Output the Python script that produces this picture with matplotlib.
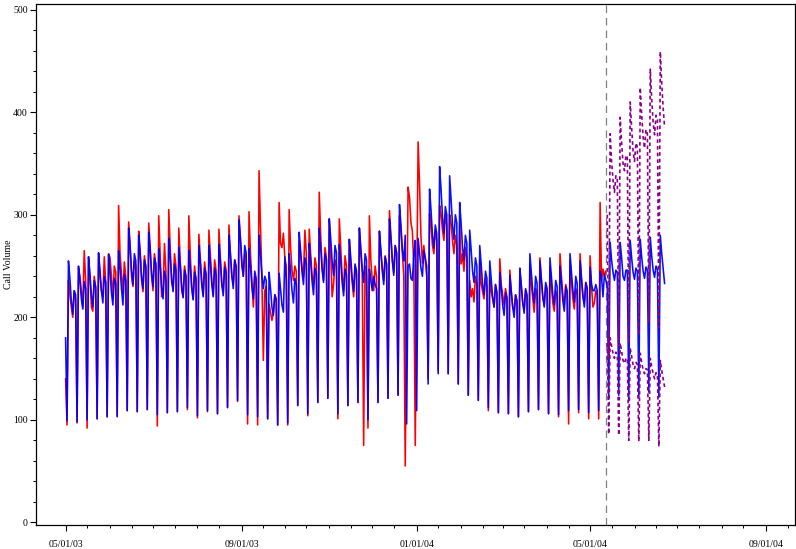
import datetime as dt
import matplotlib
matplotlib.use("Agg")
import matplotlib.pyplot as plt
import matplotlib.dates as mdates

# ---------------- data ----------------
start_date = dt.date(2003, 5, 1)
forecast_start_index = 378        # first forecast day (after the reference line)
reference_date = dt.date(2004, 5, 12)

actual_first = [140]
actual_weeks = [
    [95, 236, 222, 210, 200, 226, 218],
    [97, 248, 240, 226, 210, 265, 236],
    [92, 259, 238, 210, 206, 240, 228],
    [101, 262, 240, 226, 220, 259, 234],
    [103, 262, 258, 240, 218, 250, 244],
    [104, 309, 262, 242, 224, 254, 240],
    [109, 293, 272, 240, 230, 255, 250],
    [108, 284, 266, 236, 225, 260, 248],
    [110, 292, 270, 240, 226, 262, 250],
    [94, 299, 262, 220, 224, 272, 245],
    [107, 305, 268, 234, 228, 262, 250],
    [108, 287, 255, 226, 220, 250, 240],
    [110, 299, 262, 230, 218, 250, 236],
    [102, 281, 258, 236, 222, 254, 242],
    [108, 285, 262, 236, 222, 256, 246],
    [106, 286, 258, 232, 225, 254, 246],
    [112, 290, 262, 240, 232, 256, 248],
    [118, 299, 278, 250, 240, 262, 258],
    [96, 303, 262, 236, 210, 240, 232],
    [95, 343, 290, 236, 158, 226, 230],
    [101, 213, 205, 197, 205, 222, 215],
    [95, 312, 272, 268, 282, 258, 250],
    [95, 305, 268, 246, 236, 250, 245],
    [114, 275, 262, 248, 240, 285, 262],
    [104, 286, 262, 240, 232, 258, 250],
    [117, 322, 280, 248, 236, 268, 258],
    [121, 296, 262, 220, 232, 256, 250],
    [101, 296, 268, 240, 226, 260, 250],
    [114, 276, 250, 234, 220, 250, 242],
    [117, 287, 262, 244, 75, 250, 242],
    [92, 299, 256, 236, 226, 250, 240],
    [117, 284, 262, 249, 236, 260, 252],
    [121, 304, 280, 256, 244, 270, 262],
    [124, 299, 285, 262, 240, 55, 190],
    [327, 317, 292, 284, 250, 75, 225],
    [371, 330, 278, 253, 270, 255, 240],
    [140, 301, 290, 270, 262, 285, 275],
    [148, 309, 300, 285, 275, 300, 290],
    [145, 300, 292, 275, 262, 280, 270],
    [135, 290, 252, 262, 245, 268, 258],
    [124, 236, 220, 228, 215, 240, 232],
    [119, 255, 233, 225, 218, 238, 230],
    [109, 236, 226, 218, 210, 232, 222],
    [107, 257, 232, 222, 212, 228, 220],
    [106, 246, 225, 210, 206, 222, 215],
    [103, 245, 230, 214, 208, 226, 220],
    [108, 252, 232, 218, 205, 228, 222],
    [110, 258, 236, 220, 212, 230, 225],
    [106, 250, 230, 214, 206, 226, 220],
    [103, 262, 240, 222, 212, 232, 226],
    [96, 256, 234, 218, 208, 228, 222],
    [107, 262, 238, 222, 214, 234, 228],
    [101, 260, 230, 210, 214, 226, 222],
    [101, 312, 236, 247, 240, 245],
]

fitted_first = [180]
fitted_weeks = [
    [99, 255, 238, 216, 203, 226, 222],
    [98, 250, 236, 218, 208, 235, 228],
    [100, 259, 242, 222, 210, 236, 230],
    [101, 263, 246, 226, 214, 240, 234],
    [103, 261, 244, 224, 212, 238, 233],
    [103, 265, 248, 228, 212, 242, 236],
    [109, 287, 268, 246, 232, 262, 255],
    [108, 280, 262, 240, 228, 256, 250],
    [110, 283, 265, 243, 230, 258, 252],
    [105, 267, 250, 230, 218, 245, 238],
    [107, 277, 259, 238, 225, 252, 246],
    [108, 268, 251, 231, 219, 246, 240],
    [112, 265, 249, 229, 217, 244, 238],
    [104, 270, 253, 232, 220, 248, 242],
    [109, 270, 253, 233, 220, 248, 241],
    [106, 271, 254, 233, 221, 249, 243],
    [112, 280, 262, 241, 228, 256, 250],
    [119, 295, 276, 254, 240, 270, 263],
    [105, 267, 250, 230, 218, 245, 238],
    [103, 280, 262, 241, 228, 240, 236],
    [101, 244, 228, 210, 202, 222, 218],
    [95, 243, 228, 212, 205, 259, 236],
    [97, 262, 245, 226, 214, 238, 232],
    [114, 283, 265, 244, 232, 258, 252],
    [106, 272, 255, 235, 222, 248, 242],
    [117, 287, 268, 247, 234, 262, 256],
    [121, 296, 277, 255, 241, 270, 263],
    [106, 271, 254, 234, 221, 247, 241],
    [114, 276, 258, 238, 225, 252, 245],
    [117, 287, 268, 247, 234, 262, 256],
    [100, 247, 236, 226, 240, 232, 228],
    [117, 284, 266, 245, 232, 259, 252],
    [121, 296, 277, 255, 241, 270, 263],
    [124, 310, 290, 266, 255, 280, 96],
    [250, 252, 238, 236, 262, 275, 109],
    [277, 262, 248, 240, 265, 258, 250],
    [135, 325, 305, 280, 268, 290, 282],
    [145, 347, 325, 298, 282, 308, 300],
    [145, 338, 315, 290, 276, 300, 292],
    [135, 312, 292, 268, 256, 280, 272],
    [124, 285, 266, 245, 234, 258, 250],
    [119, 270, 252, 232, 222, 245, 238],
    [112, 255, 238, 220, 210, 232, 225],
    [107, 244, 228, 212, 202, 224, 218],
    [106, 241, 226, 210, 200, 222, 216],
    [103, 248, 232, 214, 204, 228, 222],
    [108, 262, 244, 225, 214, 240, 233],
    [110, 255, 238, 220, 210, 234, 228],
    [106, 258, 240, 222, 212, 236, 230],
    [105, 250, 234, 216, 206, 230, 224],
    [109, 262, 244, 226, 215, 240, 233],
    [110, 255, 238, 220, 210, 234, 228],
    [107, 249, 232, 226, 226, 232, 226],
    [109, 245, 239, 220, 242, 236, 230],
    [120, 273, 256, 244, 236, 246, 244],
    [124, 273, 258, 240, 236, 246, 246],
    [120, 275, 258, 244, 237, 248, 245],
    [122, 276, 259, 245, 238, 249, 246],
    [127, 278, 260, 246, 239, 250, 247],
    [122, 280, 262, 247, 233],
]

upper_limit = [300,
               160, 379, 352, 334, 322, 338, 334,
               172, 395, 370, 350, 343, 358, 356,
               175, 410, 385, 362, 352, 370, 366,
               183, 424, 398, 376, 365, 383, 379,
               195, 442, 413, 390, 378, 397, 393,
               190, 459, 428, 404, 385]
lower_limit = [175,
               86, 180, 172, 165, 160, 166, 164,
               85, 175, 167, 158, 155, 160, 160,
               80, 170, 162, 154, 150, 156, 154,
               79, 165, 156, 149, 145, 150, 149,
               80, 160, 152, 145, 140, 146, 144,
               74, 158, 148, 140, 132]

major_tick_dates = [dt.date(2003, 5, 1), dt.date(2003, 9, 1), dt.date(2004, 1, 1),
                    dt.date(2004, 5, 1), dt.date(2004, 9, 1)]
y_ticks = [0, 100, 200, 300, 400, 500]

# ---------------- build ----------------
actual = actual_first + [v for w in actual_weeks for v in w]
fitted = fitted_first + [v for w in fitted_weeks for v in w]

def day(i):
    return start_date + dt.timedelta(days=i)

x_actual = [day(i) for i in range(len(actual))]
x_fitted = [day(i) for i in range(len(fitted))]
x_fc = [day(forecast_start_index + i) for i in range(len(upper_limit))]

plt.rcParams['font.family'] = ['Liberation Serif', 'DejaVu Serif']

fig = plt.figure(figsize=(7.96, 5.49), dpi=100)
ax = fig.add_axes([35.5 / 796, 24 / 549, (795 - 35.5) / 796, (525 - 4) / 549])

ax.plot(x_actual, actual, color='#ff0000', lw=1.15, zorder=2)
ax.plot(x_fitted, fitted, color='#0000ff', lw=1.15, alpha=0.95, zorder=3)
ax.plot(x_fc, upper_limit, color='#8b008b', lw=1.2, ls=(0, (2.2, 1.8)), zorder=4)
ax.plot(x_fc, lower_limit, color='#8b008b', lw=1.2, ls=(0, (2.2, 1.8)), zorder=4)
ax.axvline(reference_date, color='#808080', lw=0.9, ls=(0, (6, 4)), zorder=1)

ax.set_xlim(dt.date(2003, 4, 10), dt.date(2004, 9, 21))
ax.set_ylim(-2.5, 505.5)

ax.xaxis.set_major_locator(matplotlib.ticker.FixedLocator(mdates.date2num(major_tick_dates)))
ax.xaxis.set_major_formatter(mdates.DateFormatter('%m/%d/%y'))
minor = []
for y in (2003, 2004):
    for m in range(1, 13):
        for d in (1, 16):
            dd = dt.date(y, m, d)
            if dt.date(2003, 5, 2) <= dd <= dt.date(2004, 9, 20) and dd not in major_tick_dates:
                minor.append(dd)
ax.xaxis.set_minor_locator(matplotlib.ticker.FixedLocator(mdates.date2num(minor)))

ax.set_yticks(y_ticks)
ax.yaxis.set_minor_locator(matplotlib.ticker.MultipleLocator(20))

ax.tick_params(axis='both', which='major', direction='out', length=4, width=0.8,
               labelsize=7, colors='black')
ax.tick_params(axis='both', which='minor', direction='out', length=2.2, width=0.7)
ax.tick_params(axis='x', which='major', pad=6.5)
ax.tick_params(axis='y', which='major', pad=1.5)

for s in ax.spines.values():
    s.set_linewidth(0.9)
    s.set_color('black')

ax.set_ylabel('Call Volume', fontsize=7, labelpad=0)

fig.savefig('out.png', dpi=100)
